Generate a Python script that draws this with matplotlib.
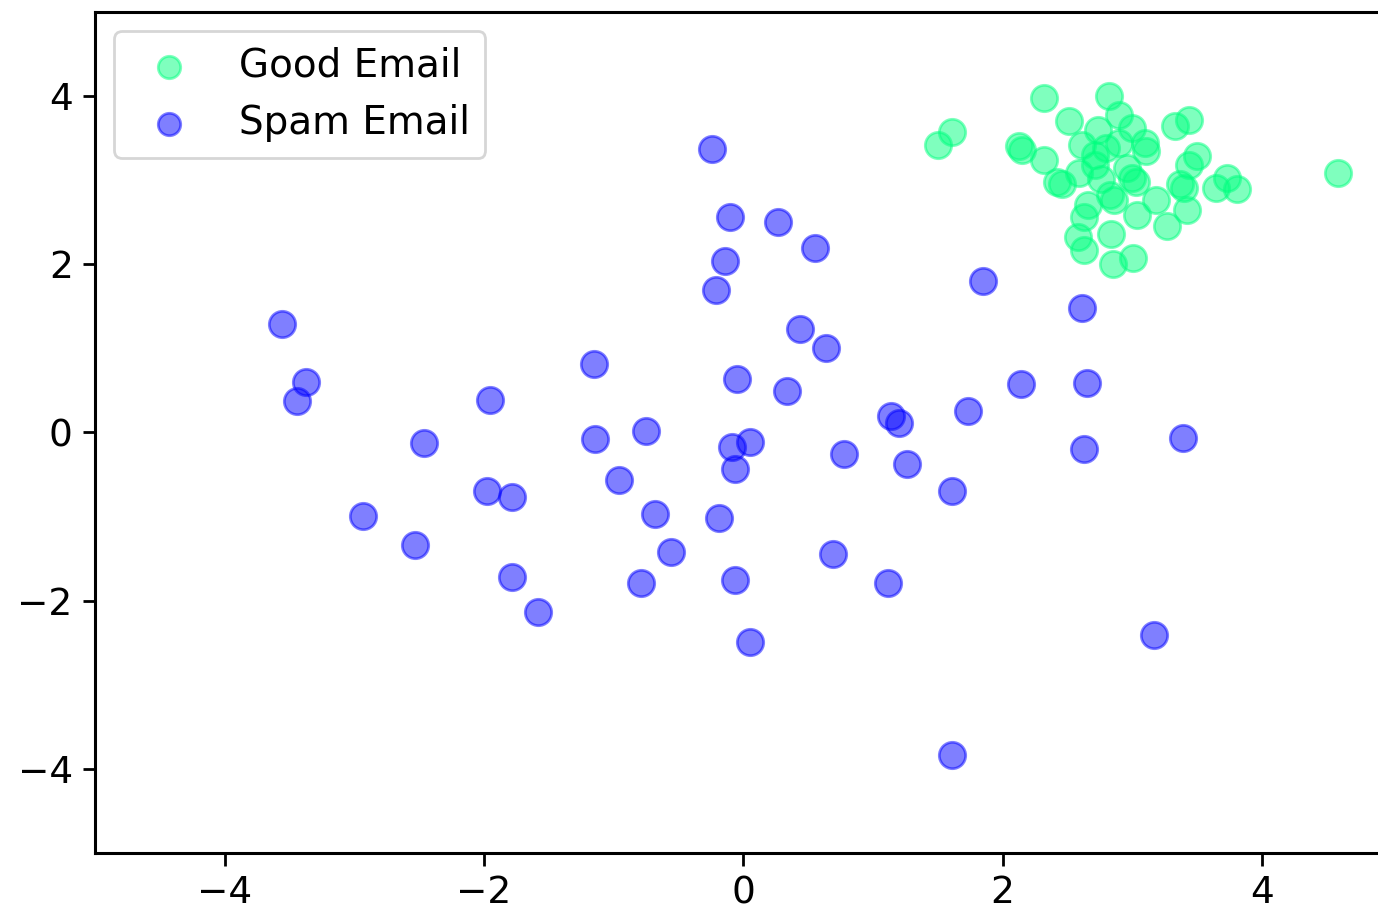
import matplotlib
matplotlib.use("Agg")
import matplotlib.pyplot as plt
import numpy as np

# values
good_x = [1.50, 1.61, 2.13, 2.15, 2.32, 2.32, 2.51, 2.42, 2.46, 2.59, 2.61, 2.74,
          2.82, 2.90, 2.71, 2.76, 2.80, 2.90, 3.00, 3.10, 3.11, 2.96, 3.00, 3.03,
          2.83, 2.86, 2.66, 2.63, 2.58, 2.63, 2.84, 2.85, 3.01, 3.04, 3.18, 3.27,
          3.42, 3.37, 3.40, 3.44, 3.50, 3.33, 3.44, 3.65, 3.73, 3.81, 4.59, 2.71]
good_y = [3.42, 3.57, 3.41, 3.36, 3.98, 3.24, 3.70, 2.98, 2.96, 3.09, 3.42, 3.60,
          4.00, 3.78, 3.18, 3.01, 3.38, 3.44, 3.62, 3.44, 3.35, 3.15, 3.02, 2.98,
          2.82, 2.77, 2.71, 2.56, 2.32, 2.17, 2.36, 2.00, 2.07, 2.59, 2.76, 2.46,
          2.65, 2.96, 2.91, 3.18, 3.29, 3.64, 3.72, 2.91, 3.03, 2.89, 3.09, 3.30]

spam_x = [-3.56, -3.37, -3.44, -2.46, -1.95, -1.15, -1.14, -0.75, -0.96, -1.98,
          -1.78, -2.93, -2.53, -0.68, -0.56, -0.79, -1.78, -1.58, -0.24, -0.10,
          0.27, 0.55, -0.14, -0.21, 1.85, 0.44, 0.64, -0.05, 0.34, 2.14,
          1.73, 1.14, 1.20, -0.09, 0.05, -0.06, 0.78, 1.26, 1.61, -0.19,
          0.69, -0.06, 1.12, 0.05, 2.61, 2.65, 3.39, 2.63, 3.17, 1.61]
spam_y = [1.29, 0.60, 0.37, -0.12, 0.39, 0.82, -0.08, 0.02, -0.56, -0.70,
          -0.77, -0.99, -1.34, -0.97, -1.42, -1.79, -1.72, -2.13, 3.37, 2.56,
          2.50, 2.19, 2.04, 1.69, 1.80, 1.23, 1.01, 0.64, 0.49, 0.58,
          0.26, 0.19, 0.11, -0.17, -0.11, -0.44, -0.26, -0.38, -0.69, -1.02,
          -1.44, -1.75, -1.79, -2.49, 1.48, 0.59, -0.07, -0.20, -2.41, -3.83]

plt.rcParams['font.family'] = 'DejaVu Sans'

fig = plt.figure(figsize=(13.78, 9.15), dpi=100)
ax = fig.add_axes([0.0689, 0.0678, 0.9409, 0.9191])

ax.scatter(good_x, good_y, s=360, c='springgreen', alpha=0.5, linewidths=2, label='Good Email')
ax.scatter(spam_x, spam_y, s=360, c='blue', alpha=0.5, linewidths=2, label='Spam Email')

ax.set_xlim(-5, 5)
ax.set_ylim(-5, 5)
ax.set_xticks([-4, -2, 0, 2, 4])
ax.set_yticks([-4, -2, 0, 2, 4])
ax.tick_params(axis='both', labelsize=27, length=9, width=2, pad=7)
for sp in ax.spines.values():
    sp.set_linewidth(2.2)

leg = ax.legend(loc='upper left', fontsize=28, markerscale=0.85)
leg.get_frame().set_linewidth(2)

fig.savefig('out.png', dpi=100)
